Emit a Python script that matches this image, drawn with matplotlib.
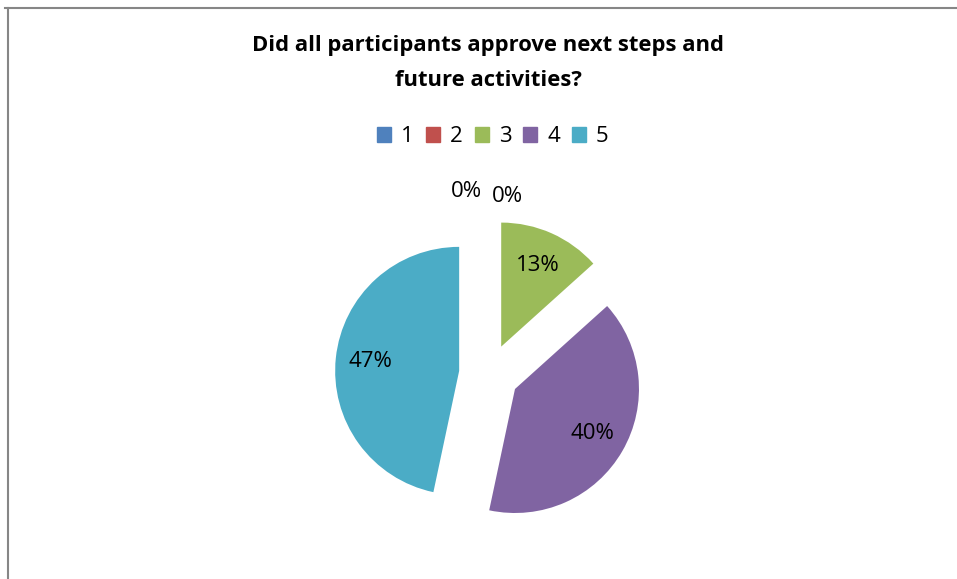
import matplotlib.pyplot as plt
from matplotlib.lines import Line2D

categories = ["1", "2", "3", "4", "5"]
counts = [0, 0, 2, 6, 7]
colors = ["#4F81BD", "#C0504D", "#9BBB59", "#8064A2", "#4BACC6"]

title = "Did all participants approve next steps and\nfuture activities?"

plt.rcParams['font.family'] = ['Open Sans', 'DejaVu Sans']

W, H = 957, 579
fig = plt.figure(figsize=(W / 100, H / 100), dpi=100)
ax = fig.add_axes([0, 0, 1, 1])

r = 124
cx, cy = 489, H - 374
wedges, texts, autotexts = ax.pie(
	counts, colors=colors, startangle=90, counterclock=False,
	radius=r, center=(cx, cy), explode=[30] * len(counts),
	autopct='%1.0f%%', pctdistance=0.72, frame=True,
	textprops=dict(fontsize=16, color='black'))
ax.set_xlim(0, W)
ax.set_ylim(0, H)
ax.set_aspect("equal")
ax.axis("off")

# zero slices: labels pushed outside like Excel does
zero_pos = [(-0.18, 1.47), (0.15, 1.43)]
k = 0
for i, v in enumerate(counts):
	if v == 0 and k < len(zero_pos):
		dx, dy = zero_pos[k]
		autotexts[i].set_position((cx + dx * r, cy + dy * r))
		k += 1

ax.text(488, H - 63, title, ha='center', va='center', fontsize=15.8,
	fontweight='bold', linespacing=1.85)

handles = [plt.Rectangle((0, 0), 1, 1, color=c) for c in colors]
fig.legend(handles, categories, loc='center', bbox_to_anchor=(493 / W, 1 - 137 / H),
	ncol=5, frameon=False, fontsize=16, handlelength=0.62, handleheight=0.62,
	handletextpad=0.45, columnspacing=0.55)

# chart border (top and left visible)
fig.add_artist(Line2D([5 / W, 1], [1 - 8 / H, 1 - 8 / H], transform=fig.transFigure,
	color='#868686', linewidth=1.5))
fig.add_artist(Line2D([8 / W, 8 / W], [0, 1 - 8 / H], transform=fig.transFigure,
	color='#868686', linewidth=1.5))

fig.savefig("out.png", dpi=100)
